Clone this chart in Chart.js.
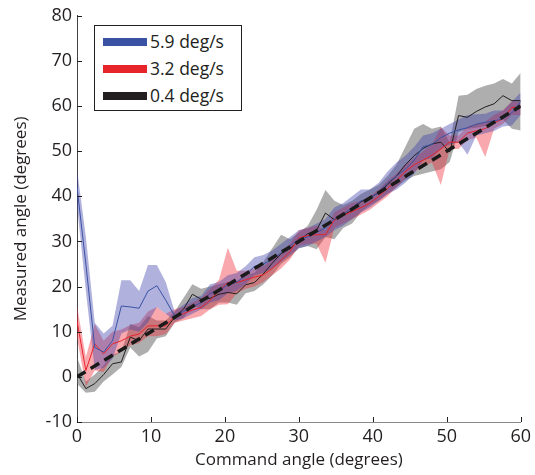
<!DOCTYPE html>
<html>
<head>
<meta charset="utf-8">
<script src="https://cdn.jsdelivr.net/npm/chart.js@4.4.0/dist/chart.umd.min.js"></script>
<style>
  html, body { margin: 0; padding: 0; background: #fff; }
  #wrap { position: relative; width: 535px; height: 475px; }
  #legend {
    position: absolute; left: 94px; top: 25px; width: 146px; height: 84px;
    border: 1px solid #231f20; background: #fff;
    font-family: "Open Sans", sans-serif; font-size: 17.5px; color: #231f20;
  }
  #legend .row { position: absolute; left: 8px; height: 20px; line-height: 20px; white-space: nowrap; }
  #legend .sw { display: inline-block; width: 44px; height: 8px; vertical-align: middle; margin-right: 3px; position: relative; top: -1px; }
</style>
</head>
<body>
<div id="wrap">
  <canvas id="chart" width="535" height="475"></canvas>
  <div id="legend"></div>
</div>
<script>
// command angle samples (degrees)
const angles = [0, 1.2, 2.4, 3.6, 4.8, 6, 7.2, 8.4, 9.6, 10.8, 12, 13.2, 14.4, 15.6, 16.8, 18, 19.2, 20.4, 21.6, 22.8,
  24, 25.2, 26.4, 27.6, 28.8, 30, 31.2, 32.4, 33.6, 34.8, 36, 37.2, 38.4, 39.6, 40.8, 42, 43.2, 44.4, 45.6, 46.8,
  48, 49.2, 50.4, 51.6, 52.8, 54, 55.2, 56.4, 57.6, 58.8, 60];

// 5.9 deg/s
const fastMean = [42, 25, 6.5, 5.5, 8, 15.7, 15.5, 15.2, 19, 20.2, 17, 13.5, 14.5, 15.5, 16.5, 18.5, 19, 20.5, 21, 22.5,
  24.5, 25, 26, 27.5, 29, 30.5, 31, 32, 33, 35, 36, 37.5, 39, 39.5, 41, 43, 44.5, 46, 48, 51,
  51.5, 53, 54, 54.7, 55.2, 56, 56.4, 56.7, 57.2, 58.5, 61];
const fastLow = [38, 19, 1.5, 2, 4, 9.6, 10.5, 10, 12, 15.5, 14, 12.5, 13, 14, 15, 16.5, 17, 18.5, 19, 20.5,
  22.5, 23, 24, 25.5, 27, 28.5, 29, 30, 31, 32.5, 33.5, 35, 36.5, 37.5, 39, 40.5, 41.5, 43, 45, 48,
  48.5, 50.5, 51.5, 52, 49.2, 53.5, 54, 54.5, 55.5, 55.7, 58];
const fastHigh = [46, 31, 12, 9.6, 11.3, 21.4, 21.4, 19, 24.8, 24.8, 21, 14.5, 16, 17.5, 18, 20.5, 21, 22.5, 23, 24.5,
  26.5, 27, 28, 29.5, 31, 32.5, 33, 34, 35, 37.5, 38.5, 40, 41.5, 41.5, 43, 45.5, 47.5, 49, 51, 53.5,
  54, 55, 56, 57, 58, 58.2, 58.3, 59, 59, 61, 63];

// 3.2 deg/s
const midMean = [12.4, 1.4, 7.3, 5.1, 7.3, 8, 9, 9.5, 11.3, 11.3, 11.3, 13.4, 14, 14.8, 15.4, 17, 19, 20.9, 20.9, 21.5,
  22.1, 22.6, 24, 25.8, 27.8, 30.8, 31.3, 31.5, 31.5, 34.8, 35.8, 36.6, 37.5, 38.5, 40, 41.8, 43.5, 45.5, 47, 48,
  49.1, 50.5, 52, 52, 54, 54.5, 55, 56.3, 57.2, 59.7, 59.7];
const midLow = [8.8, -2.2, 1.4, 1.1, 4.5, 5.5, 7, 7.5, 9, 9, 9.5, 12, 12.5, 13, 13.5, 15, 16, 16.1, 18.5, 19.5,
  20, 21, 22.5, 24, 26, 29, 29.5, 29.5, 25.3, 33, 34, 35, 36, 37, 38.5, 40, 42, 44, 45.5, 46.5,
  47.5, 42.5, 50.5, 50.5, 52.5, 53, 48.7, 55, 56, 58, 58];
const midHigh = [15.7, 4.4, 11.7, 8, 10, 10.5, 11.5, 12, 14.5, 15.5, 14, 15, 15.5, 16.5, 17.5, 19.5, 21.5, 28.6, 23.5, 23.5,
  24, 24.5, 26, 27.5, 29.5, 32.5, 33, 33.5, 32.5, 36.5, 37.5, 38.5, 39, 40, 41.5, 43.5, 45, 47, 48.5, 50,
  51.5, 55.3, 53.5, 53.5, 55.5, 56, 56.5, 58, 59, 61, 61];

// 0.4 deg/s
const slowMean = [0.7, -2.6, -1.5, 0.5, 2.9, 3.3, 8.8, 8, 10.6, 10.6, 10.6, 13.2, 15, 18.3, 17.2, 17.4, 18.3, 18.7, 18.4, 20.4,
  20.9, 22.8, 25.2, 27.3, 28.4, 30.2, 31.7, 32.5, 36.3, 34.8, 35.9, 36.9, 38.8, 39.7, 40.8, 42.6, 44.5, 47, 49, 50.6,
  51.6, 52, 49.8, 57.9, 57.5, 58.8, 59.8, 60.5, 62.3, 61.2, 61.2];
const slowLow = [-1.5, -3.5, -3.3, -1, 0.5, 2.2, 6.5, 4.5, 5.5, 8.5, 9, 12, 13, 16, 15, 15, 16.5, 16.5, 16, 18.5,
  19, 20.5, 22.5, 25, 26.5, 28.5, 29, 28.3, 31, 30.5, 33, 34, 36.5, 38, 39, 40.5, 42, 43.5, 44.5, 45,
  45.5, 46, 47.6, 54.2, 55, 55.2, 55.6, 56, 57, 55, 54.6];
const slowHigh = [4.4, -1, 0.5, 2.5, 5, 5.5, 11.7, 11, 13.5, 12.5, 12.5, 14.5, 17.5, 20.5, 19.5, 20, 20.5, 21, 21, 22.5,
  23, 25.5, 28.5, 31.5, 30.5, 32, 33.5, 37, 41.4, 39, 38.1, 39, 40.5, 41.5, 42.5, 44.5, 47, 51, 55, 56,
  55, 55.5, 52, 62.3, 62.5, 63.8, 64.5, 65, 66, 65, 67.4];

// unity reference line
const unityX = [0, 60];
const unityY = [0, 60];

const xTicks = [0, 10, 20, 30, 40, 50, 60];
const yTicks = [-10, 0, 10, 20, 30, 40, 50, 60, 70, 80];

const seriesNames = ['5.9 deg/s', '3.2 deg/s', '0.4 deg/s'];
const lineColors = ['#3a52a4', '#e8242b', '#231f20'];
const bandColors = ['rgba(60, 60, 170, 0.4)', 'rgba(240, 40, 50, 0.4)', 'rgba(100, 100, 100, 0.52)'];

function pts(xs, ys) {
    return xs.map((x, i) => ({ x: x, y: ys[i] }));
}

function meanLine(ys, i) {
    return {
        label: seriesNames[i], data: pts(angles, ys),
        borderColor: lineColors[i], borderWidth: 1, pointRadius: 0, fill: false, tension: 0
    };
}

function bandPair(lo, hi, i) {
    return [
        { label: 'hi' + i, data: pts(angles, hi), borderWidth: 0, borderColor: 'rgba(0,0,0,0)',
          backgroundColor: bandColors[i], pointRadius: 0, fill: '+1', tension: 0 },
        { label: 'lo' + i, data: pts(angles, lo), borderWidth: 0, borderColor: 'rgba(0,0,0,0)',
          pointRadius: 0, fill: false, tension: 0 }
    ];
}

const FONT = '"Open Sans", sans-serif';
const TXT = '#231f20';

// inward tick marks, like the original figure
const innerTicks = {
    id: 'innerTicks',
    afterDatasetsDraw(chart) {
        const ctx = chart.ctx;
        const xs = chart.scales.x, ys = chart.scales.y;
        const a = chart.chartArea;
        ctx.save();
        ctx.strokeStyle = '#231f20';
        ctx.lineWidth = 1;
        ctx.beginPath();
        xTicks.forEach(v => {
            const px = Math.round(xs.getPixelForValue(v)) + 0.5;
            ctx.moveTo(px, a.bottom);
            ctx.lineTo(px, a.bottom - 5);
        });
        yTicks.forEach(v => {
            const py = Math.round(ys.getPixelForValue(v)) + 0.5;
            ctx.moveTo(a.left, py);
            ctx.lineTo(a.left + 5, py);
        });
        ctx.stroke();
        ctx.restore();
    }
};

const datasets = [
    { label: 'unity', data: pts(unityX, unityY), borderColor: '#1a1a1a', borderWidth: 3.5,
      borderDash: [10, 6], pointRadius: 0, fill: false, borderCapStyle: 'butt' },
    meanLine(fastMean, 0),
    meanLine(midMean, 1),
    meanLine(slowMean, 2),
    ...bandPair(fastLow, fastHigh, 0),
    ...bandPair(midLow, midHigh, 1),
    ...bandPair(slowLow, slowHigh, 2)
];

new Chart(document.getElementById('chart').getContext('2d'), {
    type: 'line',
    data: { datasets: datasets },
    options: {
        responsive: false,
        animation: false,
        layout: { padding: { left: 0, top: 13, right: 13, bottom: 0 } },
        plugins: { legend: { display: false }, tooltip: { enabled: false } },
        scales: {
            x: {
                type: 'linear', min: 0, max: 60,
                afterBuildTicks: s => { s.ticks = xTicks.map(v => ({ value: v })); },
                afterFit: s => { s.height = 53; },
                grid: { display: false, drawTicks: false },
                border: { display: true, color: '#888', width: 1 },
                ticks: { color: TXT, font: { family: FONT, size: 18 }, padding: 4, maxRotation: 0 },
                title: { display: true, text: 'Command angle (degrees)', color: TXT,
                         font: { family: FONT, size: 17 }, padding: { top: 0, bottom: 5 } }
            },
            y: {
                type: 'linear', min: -10, max: 80,
                afterBuildTicks: s => { s.ticks = yTicks.map(v => ({ value: v })); },
                afterFit: s => { s.width = 77; },
                grid: { display: false, drawTicks: false },
                border: { display: true, color: '#444', width: 1 },
                ticks: { color: TXT, font: { family: FONT, size: 18 }, padding: 5 },
                title: { display: true, text: 'Measured angle (degrees)', color: TXT,
                         font: { family: FONT, size: 17 }, padding: { top: 11, bottom: 0 } }
            }
        }
    },
    plugins: [innerTicks]
});

// legend box drawn as html on top of the plot
const legendEl = document.getElementById('legend');
seriesNames.forEach((name, i) => {
    const row = document.createElement('div');
    row.className = 'row';
    row.style.top = (5 + i * 27) + 'px';
    row.innerHTML = '<span class="sw" style="background:' + lineColors[i] + '"></span>' + name;
    legendEl.appendChild(row);
});
</script>
</body>
</html>
